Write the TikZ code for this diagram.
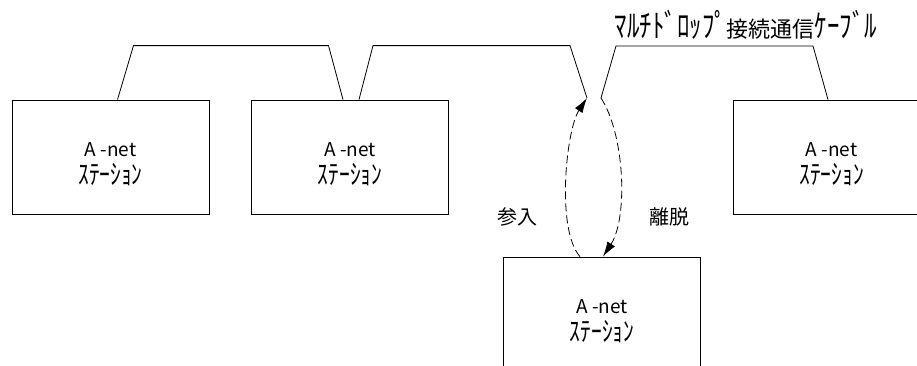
\documentclass[tikz,border=0pt]{standalone}
\usepackage{fontspec}
\setmainfont{Noto Sans CJK JP}
% half-width kana, stretched to full height
\newfontfamily\hwfont[Scale=1.45,FakeStretch=0.78]{Noto Sans CJK JP}
\usepackage{tikz}
\usetikzlibrary{arrows.meta,positioning,calc}
\definecolor{cInk}{HTML}{000000}
\tikzset{
  stn/.style={draw=cInk,line width=0.8pt,minimum width=197pt,minimum height=114pt,align=center,
    font=\fontsize{19}{28}\selectfont,inner sep=0pt,text=cInk,text height=60pt,text depth=6pt},
  cable/.style={draw=cInk,line width=0.8pt},
  move/.style={-{Latex[length=15pt,width=9pt]},dash pattern=on 8pt off 4pt,line width=0.8pt,color=cInk},
  lbl/.style={font=\fontsize{20}{24}\selectfont,text=cInk},
}
\newcommand{\stname}{A -net\\{\hwfont ｽﾃｰｼｮﾝ}}

\begin{document}
\begin{tikzpicture}[x=1pt,y=-1pt]
    \useasboundingbox (0,0) rectangle (917,365);
    % stations on the line
    \node[stn] (st1) at (110.5,157) {\stname};
    \node[stn] (st2) at (350,157)   {\stname};
    \node[stn] (st3) at (831.5,157) {\stname};
    % station being attached / detached
    \node[stn] (st4) at (602,314)   {\stname};
    % cable, cut open between st2 and st3
    \draw[cable] ([xshift=7pt]st1.north) -- ++(16,-54) -- ++(195,0) -- ([xshift=-7pt]st2.north);
    \coordinate (cutL) at (587,98);
    \coordinate (cutR) at (601,98);
    \draw[cable] ([xshift=9pt]st2.north) -- ++(14,-54) -- ++(197,0) -- (cutL);
    \draw[cable] (cutR) -- ++(15,-52) -- ++(197,0) -- ([xshift=-3.5pt]st3.north);
    \node[lbl,font=\fontsize{22}{24}\selectfont] (title) at (746,25)
      {{\hwfont ﾏﾙﾁﾄﾞﾛｯﾌﾟ}接続通信{\hwfont ｹｰﾌﾞﾙ}};
    % join / leave
    \draw[move] ([xshift=-22pt]st4.north) .. controls (556,230) and (566,130) .. (cutL);
    \draw[move] (cutR) .. controls (625,135) and (628,218) .. ([xshift=1pt]st4.north);
    \node[lbl] (join)  at (517,217) {参入};
    \node[lbl] (leave) at (669,217) {離脱};
\end{tikzpicture}
\end{document}
